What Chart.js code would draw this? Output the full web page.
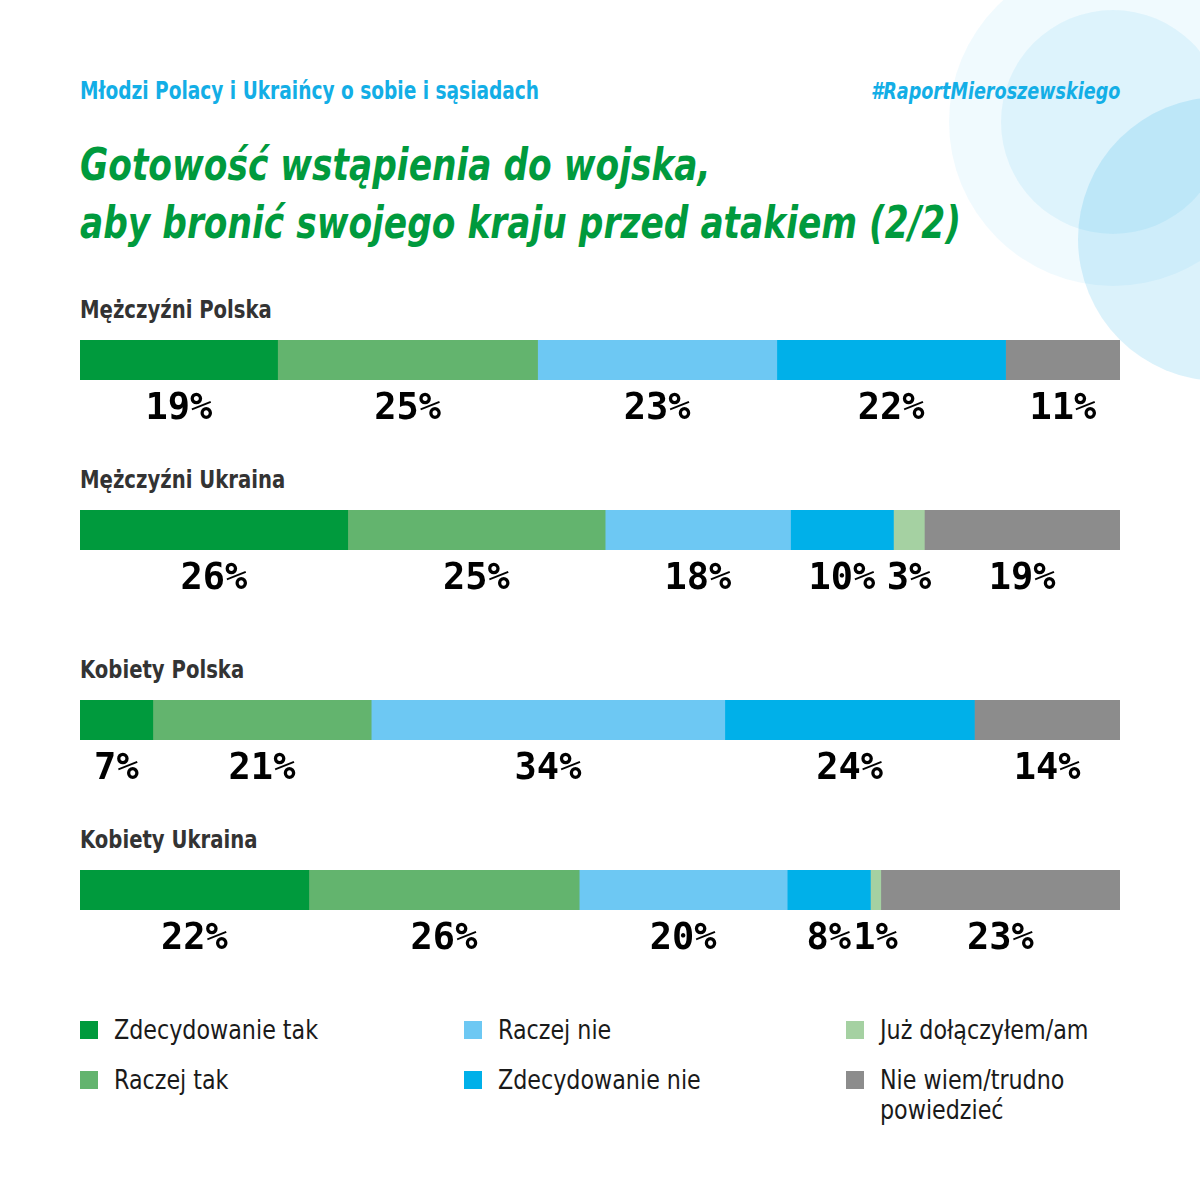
<!DOCTYPE html>
<html lang="pl">
<head>
<meta charset="utf-8">
<script src="https://cdn.jsdelivr.net/npm/chart.js@4.4.1/dist/chart.umd.min.js"></script>
<style>
  html, body { margin: 0; padding: 0; background: #fff; }
  body { width: 1200px; height: 1200px; position: relative; overflow: hidden;
         font-family: "DejaVu Sans Condensed", "Liberation Sans Narrow", "Roboto", sans-serif; font-stretch: condensed; }
  .circle { position: absolute; border-radius: 50%; }
  .abs { position: absolute; white-space: nowrap; }
  .subtitle { left: 80px; top: 76px; font-size: 24px; line-height: 30px; color: #13aee6; font-weight: 600;
              transform: scaleX(0.86); transform-origin: left center; }
  .hashtag { right: 80px; top: 76px; font-size: 23px; line-height: 30px; color: #13aee6; font-style: italic; font-weight: 600;
             transform: scaleX(0.85); transform-origin: right center; }
  .title { left: 80px; top: 136px; font-size: 45px; line-height: 58px; color: #009a3d; font-style: italic; font-weight: 700;
           transform: scaleX(0.85); transform-origin: left center; }
  .rowtitle { left: 80px; font-size: 24px; line-height: 30px; color: #333; font-weight: 600;
              transform: scaleX(0.91); transform-origin: left center; }
  .chartbox { position: absolute; left: 80px; width: 1040px; height: 80px; }
  .legend-item { position: absolute; font-size: 26px; line-height: 30px; color: #1a1a1a; }
  .legend-item .sw { position: absolute; left: 0; top: 6px; width: 18px; height: 18px; }
  .legend-item .tx { position: absolute; left: 34px; top: 0; white-space: nowrap;
                     transform: scaleX(0.95); transform-origin: left center; }
</style>
</head>
<body>
<div class="circle" style="left:949px; top:-42px; width:328px; height:328px; background:rgba(0,170,230,0.06);"></div>
<div class="circle" style="left:1001px; top:10px; width:224px; height:224px; background:rgba(0,170,230,0.08);"></div>
<div class="circle" style="left:1078px; top:97px; width:284px; height:284px; background:rgba(0,160,230,0.14);"></div>

<div class="abs subtitle">Młodzi Polacy i Ukraińcy o sobie i sąsiadach</div>
<div class="abs hashtag">#RaportMieroszewskiego</div>
<div class="abs title">Gotowość wstąpienia do wojska,<br>aby bronić swojego kraju przed atakiem (2/2)</div>

<div id="rows"></div>
<div id="legend"></div>

<script>
// data
const groups = ['Mężczyźni Polska', 'Mężczyźni Ukraina', 'Kobiety Polska', 'Kobiety Ukraina'];
const seriesNames = ['Zdecydowanie tak', 'Raczej tak', 'Raczej nie', 'Zdecydowanie nie', 'Już dołączyłem/am', 'Nie wiem/trudno powiedzieć'];
const seriesColors = ['#009a3d', '#63b46e', '#6dc8f3', '#00b0e9', '#a5d1a2', '#8c8c8c'];
const zdecydowanieTak = [19, 26, 7, 22];
const raczejTak = [25, 25, 21, 26];
const raczejNie = [23, 18, 34, 20];
const zdecydowanieNie = [22, 10, 24, 8];
const juzDolaczyl = [null, 3, null, 1];
const nieWiem = [11, 19, 14, 23];
const seriesValues = [zdecydowanieTak, raczejTak, raczejNie, zdecydowanieNie, juzDolaczyl, nieWiem];

// layout
const barTops = [340, 510, 700, 870];

const labelPlugin = {
  id: 'segLabels',
  afterDatasetsDraw(chart) {
    const ctx = chart.ctx;
    ctx.save();
    ctx.font = 'bold 37px "DejaVu Sans Mono", monospace';
    ctx.fillStyle = '#000';
    ctx.textAlign = 'center';
    ctx.textBaseline = 'middle';
    chart.data.datasets.forEach((ds, i) => {
      const v = ds.data[0];
      if (v == null) return;
      const el = chart.getDatasetMeta(i).data[0];
      const cx = (el.x + el.base) / 2;
      ctx.fillText(v + '%', cx, chart.chartArea.bottom + 29);
    });
    ctx.restore();
  }
};

const rows = document.getElementById('rows');
groups.forEach((g, gi) => {
  const t = document.createElement('div');
  t.className = 'abs rowtitle';
  t.style.top = (barTops[gi] - 45) + 'px';
  t.textContent = g;
  rows.appendChild(t);

  const box = document.createElement('div');
  box.className = 'chartbox';
  box.style.top = barTops[gi] + 'px';
  const cv = document.createElement('canvas');
  box.appendChild(cv);
  rows.appendChild(box);

  const datasets = seriesNames.map((name, si) => ({
    label: name,
    data: [seriesValues[si][gi]],
    backgroundColor: seriesColors[si],
    borderWidth: 0,
    barPercentage: 1,
    categoryPercentage: 1
  }));
  const total = datasets.reduce((s, d) => s + (d.data[0] || 0), 0);

  new Chart(cv, {
    type: 'bar',
    data: { labels: [g], datasets: datasets },
    options: {
      indexAxis: 'y',
      responsive: true,
      maintainAspectRatio: false,
      animation: false,
      layout: { padding: { top: 0, bottom: 40, left: 0, right: 0 } },
      scales: {
        x: { stacked: true, display: false, min: 0, max: total },
        y: { stacked: true, display: false }
      },
      plugins: { legend: { display: false }, tooltip: { enabled: false } }
    },
    plugins: [labelPlugin]
  });
});

// legend: 3 columns, 2 rows, filled column by column
const legend = document.getElementById('legend');
const legendCols = [80, 464, 846];
const legendRows = [1015, 1065];
seriesNames.forEach((name, i) => {
  const item = document.createElement('div');
  item.className = 'legend-item';
  item.style.left = legendCols[Math.floor(i / 2)] + 'px';
  item.style.top = legendRows[i % 2] + 'px';
  const sw = document.createElement('div');
  sw.className = 'sw';
  sw.style.background = seriesColors[i];
  const tx = document.createElement('div');
  tx.className = 'tx';
  tx.innerHTML = name === 'Nie wiem/trudno powiedzieć' ? 'Nie wiem/trudno<br>powiedzieć' : name;
  item.appendChild(sw);
  item.appendChild(tx);
  legend.appendChild(item);
});
</script>
</body>
</html>
